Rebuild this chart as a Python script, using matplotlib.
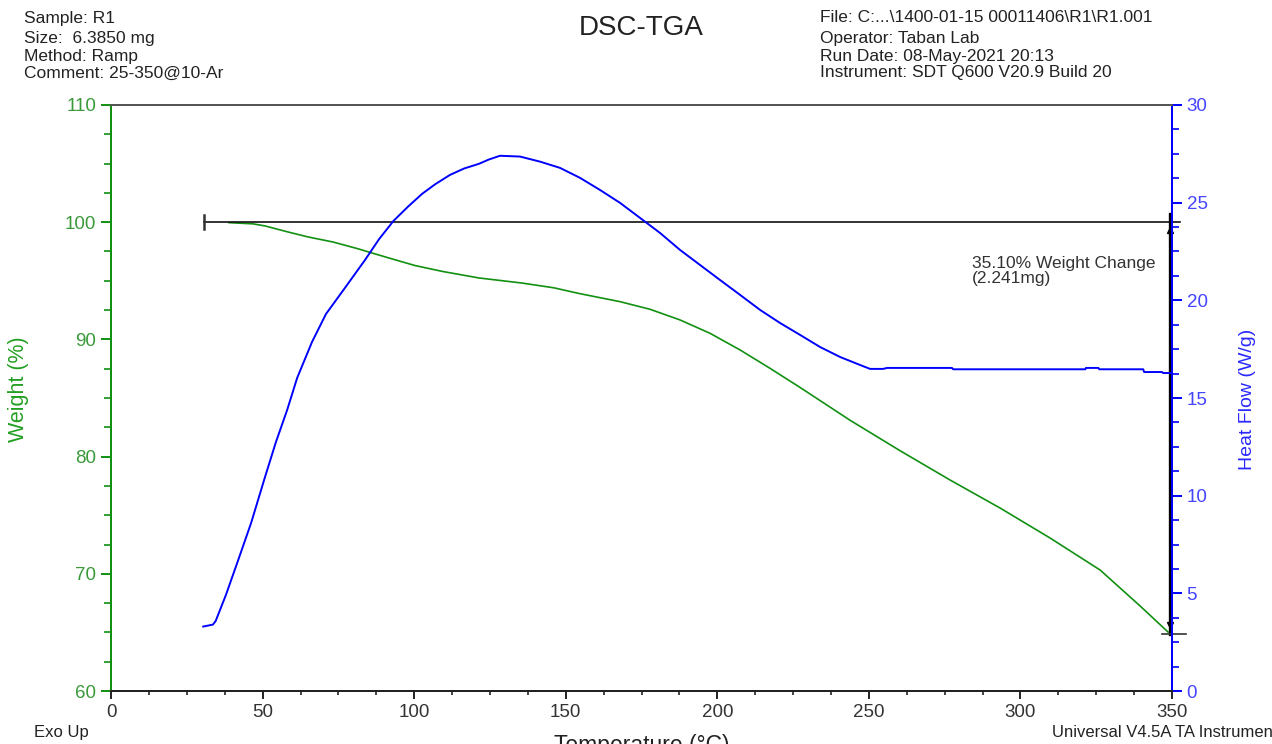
import matplotlib
matplotlib.use("Agg")
import matplotlib.pyplot as plt
from matplotlib.ticker import MultipleLocator, AutoMinorLocator

plt.rcParams['font.family'] = ['Liberation Sans', 'DejaVu Sans']

# heat flow (W/g) vs temperature (C)
hf_temp = [30.4, 33.6, 34.5, 37.9, 41.6, 46.2, 50.8, 54.4, 58.1, 61.4, 66.3, 70.9,
           76.9, 83.8, 88.5, 93.2, 98.0, 102.6, 107.0, 111.8, 116.5, 121.4, 124.5,
           128.3, 134.9, 141.5, 148.1, 154.7,
           161.3, 167.9, 174.5, 181.1, 187.7, 194.3, 200.9, 207.5, 214.1, 220.7,
           227.3, 233.9, 240.5, 247.1, 250.4, 254.7, 256.0, 277.4, 277.8, 321.4,
           321.6, 325.7, 326.0, 340.5, 340.8, 346.7, 347.0, 349.5]
hf_val = [3.30, 3.40, 3.58, 4.92, 6.55, 8.60, 10.96, 12.75, 14.39, 16.03, 17.87, 19.30,
          20.58, 22.07, 23.15, 24.07, 24.80, 25.45, 25.95, 26.42, 26.75, 26.99, 27.20,
          27.40, 27.36, 27.10, 26.78, 26.27,
          25.65, 24.99, 24.22, 23.45, 22.58, 21.81, 21.04, 20.28, 19.51, 18.84,
          18.23, 17.61, 17.10, 16.69, 16.49, 16.49, 16.54, 16.54, 16.47, 16.47,
          16.54, 16.54, 16.47, 16.47, 16.33, 16.33, 16.28, 16.28]

# weight (%) vs temperature (C)
wt_temp = [38.9, 46.8, 50.8, 58.0, 65.0, 73.2, 81.5, 86.1, 93.2, 100.3, 109.5, 121.4,
           135.5, 146.1, 154.7, 167.9, 177.8, 187.7, 197.6, 207.5, 217.4, 227.3,
           243.8, 260.3, 276.8, 293.3, 309.8, 326.3, 339.5, 348.7]
wt_val = [99.96, 99.86, 99.68, 99.19, 98.74, 98.31, 97.73, 97.37, 96.83, 96.30, 95.79, 95.24,
          94.81, 94.40, 93.90, 93.22, 92.57, 91.66, 90.52, 89.10, 87.53, 85.90,
          83.10, 80.50, 78.00, 75.61, 73.05, 70.32, 67.25, 65.03]

# step annotation
step_start = 30.7
step_end = 349.4
step_top = 100.0
step_bottom = 64.9
step_text = "35.10% Weight Change\n(2.241mg)"

header_left = ["Sample: R1", "Size:  6.3850 mg", "Method: Ramp", "Comment: 25-350@10-Ar"]
header_right = ["File: C:...\\1400-01-15 00011406\\R1\\R1.001", "Operator: Taban Lab",
                "Run Date: 08-May-2021 20:13", "Instrument: SDT Q600 V20.9 Build 20"]
header_y = [18, 38, 56, 73]

green = '#119011'
blue = '#0000ff'

fig = plt.figure(figsize=(12.72, 7.44), dpi=100)
ax = fig.add_axes([0.0873, 0.0712, 0.8341, 0.7877])
ax2 = ax.twinx()

ax.plot(wt_temp, wt_val, color=green, lw=1.2)
ax2.plot(hf_temp, hf_val, color=blue, lw=1.4)

# weight change marker
ax.plot([step_start, 352.6], [step_top, step_top], color='#111111', lw=1.2, clip_on=False)
ax.plot([step_start, step_start], [99.45, 100.6], color='#333333', lw=1.8)
ax.plot([step_end, step_end], [100.7, step_bottom], color='black', lw=2.4, clip_on=False)
ax.plot([346.6, 354.6], [step_bottom, step_bottom], color='#333333', lw=1.2, clip_on=False)
ax.plot([step_end], [99.3], marker='^', color='black', ms=4, clip_on=False)
ax.plot([step_end], [65.6], marker='v', color='black', ms=4, clip_on=False)
ax.text(284, 97.1, step_text, fontsize=12.5, color='#333333', va='top', ha='left',
        linespacing=1.0)

ax.set_xlim(0, 350)
ax.set_ylim(60, 110)
ax2.set_ylim(0, 30)

ax.xaxis.set_major_locator(MultipleLocator(50))
ax.xaxis.set_minor_locator(AutoMinorLocator(4))
ax.yaxis.set_major_locator(MultipleLocator(10))
ax.yaxis.set_minor_locator(AutoMinorLocator(4))
ax2.yaxis.set_major_locator(MultipleLocator(5))
ax2.yaxis.set_minor_locator(AutoMinorLocator(4))

for s in ['left', 'right', 'top', 'bottom']:
    ax.spines[s].set_linewidth(1.4)
    ax2.spines[s].set_linewidth(1.4)
ax.spines['left'].set_color(green)
ax2.spines['left'].set_color(green)
ax.spines['bottom'].set_color('#222222')
ax2.spines['bottom'].set_color('#222222')
ax.spines['top'].set_color('#555555')
ax2.spines['top'].set_color('#555555')
ax.spines['right'].set_color(blue)
ax2.spines['right'].set_color(blue)

ax.tick_params(axis='y', which='major', colors=green, labelcolor='#3a9a3a',
               length=7, width=1.4, labelsize=13.5)
ax.tick_params(axis='y', which='minor', colors=green, length=5, width=1.2)
ax.tick_params(axis='x', which='major', colors='#222222', labelcolor='#333333',
               length=6, width=1.4, labelsize=13.5)
ax.tick_params(axis='x', which='minor', colors='#222222', length=3, width=1.2)
ax2.tick_params(axis='y', which='major', colors=blue, labelcolor='#4545ff',
                length=7, width=1.4, labelsize=13.5)
ax2.tick_params(axis='y', which='minor', colors=blue, length=5, width=1.2)

ax.set_ylabel('Weight (%)', color='#22a022', fontsize=15.5)
ax.yaxis.set_label_coords(-0.077, 0.515)
ax2.set_ylabel('Heat Flow (W/g)', color='#2a2aff', fontsize=14)
ax2.yaxis.set_label_coords(1.063, 0.497)
ax.set_xlabel('Temperature (°C)', fontsize=16.5, color='#222222', labelpad=9)

fig.text(0.504, 0.962, 'DSC-TGA', fontsize=20, ha='center', va='center', color='#222222')
for line, yy in zip(header_left, header_y):
    fig.text(0.019, 1 - yy / 744, line, fontsize=12.5, ha='left', va='center', color='#222222')
for line, yy in zip(header_right, header_y):
    fig.text(0.645, 1 - yy / 744, line, fontsize=12.5, ha='left', va='center', color='#222222')
fig.text(0.027, 0.016, 'Exo Up', fontsize=12, ha='left', va='center', color='#222222')
fig.text(0.827, 0.016, 'Universal V4.5A TA Instruments', fontsize=12, ha='left',
         va='center', color='#222222')

fig.savefig('out.png', dpi=100)
